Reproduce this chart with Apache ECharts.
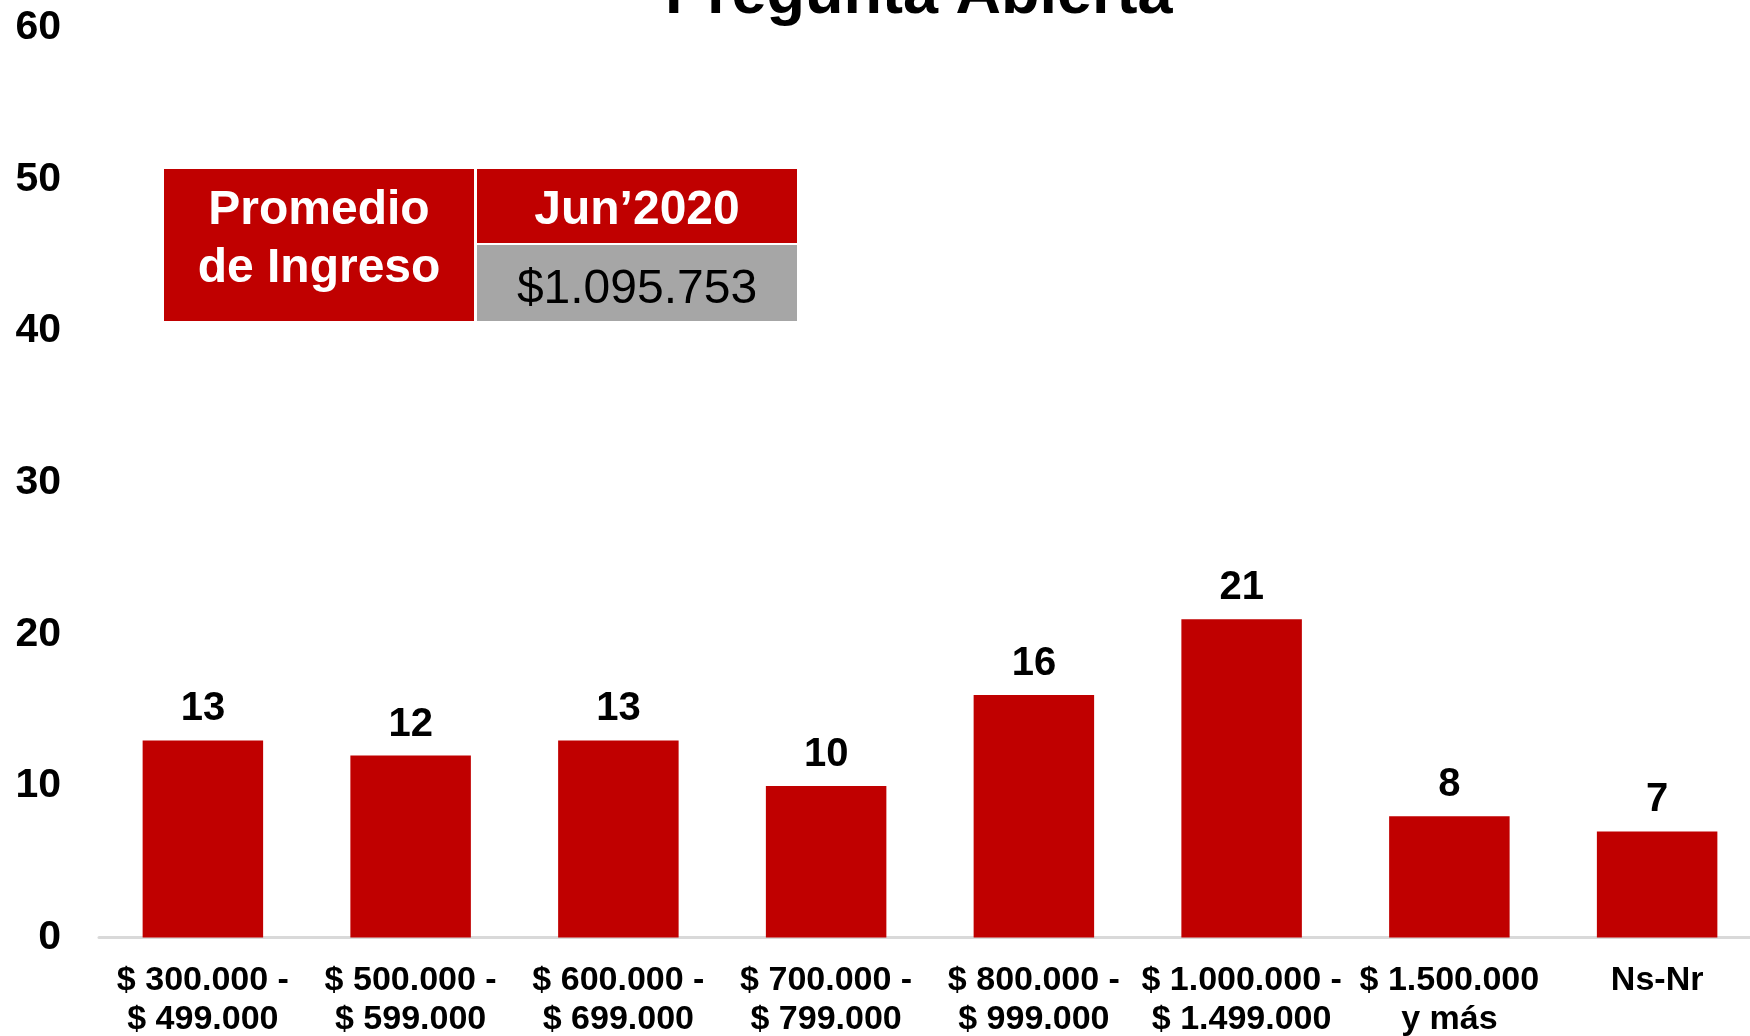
<!DOCTYPE html>
<html>
<head>
<meta charset="utf-8">
<script src="https://cdn.jsdelivr.net/npm/echarts@6/dist/echarts.min.js"></script>
<style>
  html, body { margin: 0; padding: 0; background: #fff; }
  #chart { width: 1750px; height: 1036px; }
</style>
</head>
<body>
<div id="chart"></div>
<script>
// datos
const categorias = [
  '$ 300.000 -\n$ 499.000',
  '$ 500.000 -\n$ 599.000',
  '$ 600.000 -\n$ 699.000',
  '$ 700.000 -\n$ 799.000',
  '$ 800.000 -\n$ 999.000',
  '$ 1.000.000 -\n$ 1.499.000',
  '$ 1.500.000\ny más',
  'Ns-Nr'
]
const valores = [13, 12, 13, 10, 16, 21, 8, 7]
const ejeY = { min: 0, max: 60, interval: 10 }

// cuadro de promedio
const tablaEtiqueta = 'Promedio\nde Ingreso'
const tablaPeriodo = 'Jun\u20192020'
const tablaValor = '$1.095.753'

const rojo = '#C00000'
const fuente = '"Liberation Sans", Arial, sans-serif'

let myChart = echarts.init(document.getElementById('chart'))

myChart.setOption({
  animation: false,
  title: {
    text: 'Pregunta Abierta',
    left: 660,
    top: -41,
    textStyle: {
      fontFamily: fuente,
      fontWeight: 'bold',
      fontSize: 63,
      color: '#000'
    }
  },
  grid: {
    left: 99,
    width: 1662,
    top: 28,
    bottom: 98.5,
    containLabel: false,
    outerBoundsMode: 'none'
  },
  xAxis: {
    type: 'category',
    data: categorias,
    axisLine: { lineStyle: { color: '#D9D9D9', width: 3 } },
    axisTick: { show: false },
    axisLabel: {
      interval: 0,
      margin: 24,
      color: '#000',
      fontFamily: fuente,
      fontWeight: 'bold',
      fontSize: 34,
      lineHeight: 39
    }
  },
  yAxis: {
    type: 'value',
    min: ejeY.min,
    max: ejeY.max,
    interval: ejeY.interval,
    splitLine: { show: false },
    axisLine: { show: false },
    axisTick: { show: false },
    axisLabel: {
      margin: 38,
      padding: [6, 0, 0, 0],
      color: '#000',
      fontFamily: fuente,
      fontWeight: 'bold',
      fontSize: 41
    }
  },
  series: [
    {
      type: 'bar',
      data: valores,
      barWidth: '58%',
      itemStyle: { color: rojo },
      label: {
        show: true,
        position: 'top',
        distance: 11,
        color: '#000',
        fontFamily: fuente,
        fontWeight: 'bold',
        fontSize: 40
      }
    }
  ],
  graphic: [
    // celda izquierda
    { type: 'rect', shape: { x: 164, y: 169, width: 310, height: 152 }, style: { fill: rojo } },
    // celda periodo
    { type: 'rect', shape: { x: 477, y: 169, width: 320, height: 74 }, style: { fill: rojo } },
    // celda valor
    { type: 'rect', shape: { x: 477, y: 245, width: 320, height: 76 }, style: { fill: '#A6A6A6' } },
    {
      type: 'text', x: 319, y: 239.5,
      style: {
        text: tablaEtiqueta, align: 'center', verticalAlign: 'middle',
        fill: '#fff', font: 'bold 48px ' + fuente, lineHeight: 58
      }
    },
    {
      type: 'text', x: 637, y: 210.5,
      style: {
        text: tablaPeriodo, align: 'center', verticalAlign: 'middle',
        fill: '#fff', font: 'bold 48px ' + fuente
      }
    },
    {
      type: 'text', x: 637, y: 289.5,
      style: {
        text: tablaValor, align: 'center', verticalAlign: 'middle',
        fill: '#000', font: '48px ' + fuente
      }
    }
  ]
})
</script>
</body>
</html>
